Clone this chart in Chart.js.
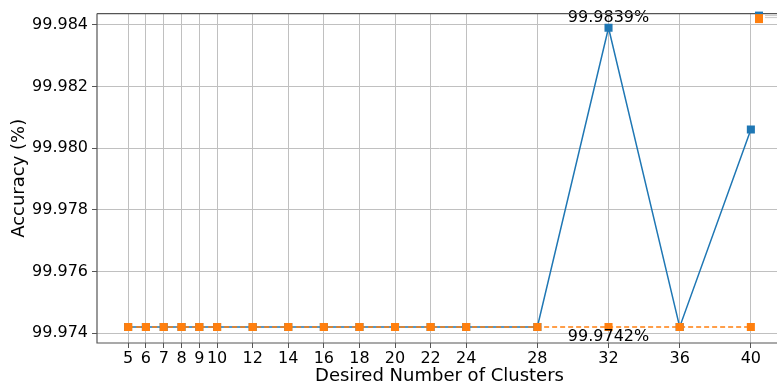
<!DOCTYPE html>
<html>
<head>
<meta charset="utf-8">
<script src="https://cdn.jsdelivr.net/npm/chart.js@4.4.1/dist/chart.umd.min.js"></script>
<style>
  html, body { margin: 0; padding: 0; background: #fff; overflow: hidden; width: 777px; height: 383px; }
  canvas { display: block; }
</style>
</head>
<body>
<canvas id="c" width="790" height="383"></canvas>
<script>
// Number of clusters requested for each run
const clusters = [5, 6, 7, 8, 9, 10, 12, 14, 16, 18, 20, 22, 24, 28, 32, 36, 40];
// Accuracy (%) obtained by the clustering run
const accuracyClustered = [99.9742, 99.9742, 99.9742, 99.9742, 99.9742, 99.9742, 99.9742, 99.9742, 99.9742,
  99.9742, 99.9742, 99.9742, 99.9742, 99.9742, 99.9839, 99.9742, 99.9806];
// Baseline accuracy (%) for comparison
const accuracyBaseline = [99.9742, 99.9742, 99.9742, 99.9742, 99.9742, 99.9742, 99.9742, 99.9742, 99.9742,
  99.9742, 99.9742, 99.9742, 99.9742, 99.9742, 99.9742, 99.9742, 99.9742];
// Axis tick values
const xTicks = clusters;
const yTicks = [99.974, 99.976, 99.978, 99.980, 99.982, 99.984];
// Point whose values are annotated
const annotatedCluster = 32;

const FONT = "'DejaVu Sans', sans-serif";
const BLUE = '#1f77b4';
const ORANGE = '#ff7f0e';

const toPoints = (ys) => clusters.map((x, i) => ({ x: x, y: ys[i] }));

// Draws the axes frame (left, bottom and top spines)
const spines = {
  id: 'spines',
  afterDraw(chart) {
    const { ctx, chartArea: a } = chart;
    ctx.save();
    ctx.strokeStyle = '#555';
    ctx.lineWidth = 1.2;
    ctx.beginPath();
    ctx.moveTo(a.left, a.top); ctx.lineTo(a.left, a.bottom); ctx.lineTo(a.right, a.bottom);
    ctx.moveTo(a.left, a.top); ctx.lineTo(a.right, a.top);
    ctx.stroke();
    ctx.restore();
  }
};

// Writes the value labels above / below the annotated points
const valueLabels = {
  id: 'valueLabels',
  afterDatasetsDraw(chart) {
    const { ctx, scales } = chart;
    const i = clusters.indexOf(annotatedCluster);
    const x = scales.x.getPixelForValue(annotatedCluster);
    const yTop = scales.y.getPixelForValue(accuracyClustered[i]);
    const yBot = scales.y.getPixelForValue(accuracyBaseline[i]);
    ctx.save();
    ctx.fillStyle = '#000';
    ctx.font = '16px ' + FONT;
    ctx.textAlign = 'center';
    ctx.textBaseline = 'bottom';
    ctx.fillText(accuracyClustered[i].toFixed(4) + '%', x, yTop - 2);
    ctx.textBaseline = 'top';
    ctx.fillText(accuracyBaseline[i].toFixed(4) + '%', x, yBot + 2);
    ctx.restore();
  }
};

// Compact legend in the top right corner
const cornerLegend = {
  id: 'cornerLegend',
  afterDraw(chart) {
    const { ctx, chartArea: a } = chart;
    const x0 = a.left + 658;
    ctx.save();
    chart.data.datasets.forEach((ds, k) => {
      ctx.fillStyle = ds.borderColor;
      ctx.fillRect(x0, a.top - 2 + k * 2.5, 8, 8 + k);
      ctx.strokeStyle = 'rgba(150,150,150,0.5)';
      ctx.lineWidth = 1;
      ctx.beginPath();
      ctx.moveTo(x0 + 10, a.top + 2 + k * 2);
      ctx.lineTo(x0 + 22, a.top + 2 + k * 2);
      ctx.stroke();
    });
    ctx.restore();
  }
};

new Chart(document.getElementById('c'), {
  type: 'line',
  data: {
    datasets: [
      {
        label: 'Clustered',
        data: toPoints(accuracyClustered),
        borderColor: BLUE,
        backgroundColor: BLUE,
        borderWidth: 1.5,
        pointStyle: 'rect',
        pointRadius: 5.7,
        pointHoverRadius: 5.7,
        pointBorderWidth: 0,
        tension: 0,
        order: 1
      },
      {
        label: 'Baseline',
        data: toPoints(accuracyBaseline),
        borderColor: ORANGE,
        backgroundColor: ORANGE,
        borderWidth: 1.5,
        borderDash: [5, 3],
        pointStyle: 'rect',
        pointRadius: 5.7,
        pointHoverRadius: 5.7,
        pointBorderWidth: 0,
        tension: 0,
        order: 0
      }
    ]
  },
  options: {
    responsive: false,
    animation: false,
    layout: { padding: { top: 13, right: 8, left: 0, bottom: 0 } },
    plugins: { legend: { display: false }, tooltip: { enabled: false } },
    scales: {
      x: {
        type: 'linear',
        min: 3.25,
        max: 41.75,
        afterBuildTicks(s) { s.ticks = xTicks.map(v => ({ value: v })); },
        afterFit(s) { s.height = 40; },
        ticks: { color: '#000', font: { family: FONT, size: 16 }, maxRotation: 0, autoSkip: false, padding: 1 },
        grid: { color: '#c0c0c0', lineWidth: 1, tickColor: '#555', tickLength: 5 },
        border: { display: false },
        title: { display: true, text: 'Desired Number of Clusters', color: '#000', font: { family: FONT, size: 18 }, padding: { top: 0, bottom: -4 } }
      },
      y: {
        min: 99.97368,
        max: 99.98436,
        afterBuildTicks(s) { s.ticks = yTicks.map(v => ({ value: v })); },
        afterFit(s) { s.width = 97; },
        ticks: { color: '#000', font: { family: FONT, size: 16 }, padding: 4, callback: v => v.toFixed(3) },
        grid: { color: '#c0c0c0', lineWidth: 1, tickColor: '#555', tickLength: 5 },
        border: { display: false },
        title: { display: true, text: 'Accuracy (%)', color: '#000', font: { family: FONT, size: 18 }, padding: { top: 9, bottom: 0 } }
      }
    }
  },
  plugins: [spines, valueLabels, cornerLegend]
});
</script>
</body>
</html>
